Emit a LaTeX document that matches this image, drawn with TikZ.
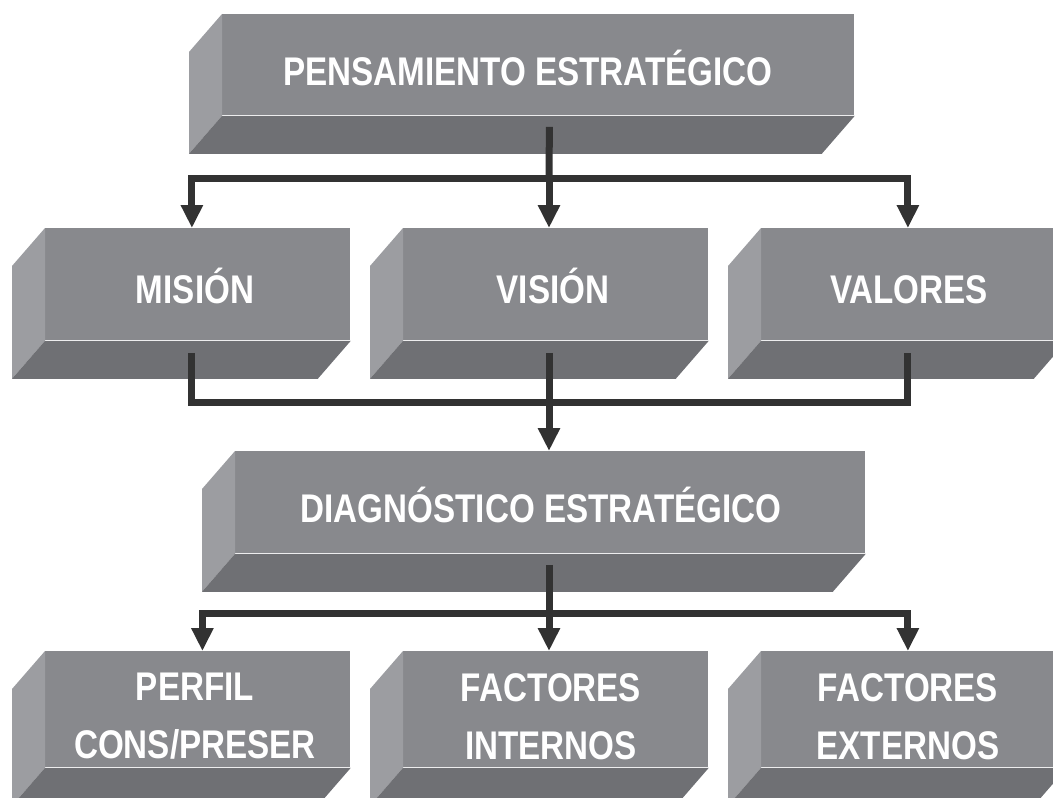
\documentclass[tikz,border=0pt]{standalone}
\usepackage{fontspec}
\newfontfamily\boxfont{Liberation Sans}[FakeStretch=0.83]
\usepackage{tikz}
\usetikzlibrary{arrows.meta}

\definecolor{frontgrey}{RGB}{136,137,141}
\definecolor{sidegrey}{RGB}{156,157,161}
\definecolor{basegrey}{RGB}{111,112,116}
\definecolor{linkgrey}{RGB}{50,50,50}

\newcommand{\boxbevel}[1]{%
  \fill[sidegrey] (#1.north west) -- ++(-33,38) -- ([shift={(-33,38)}]#1.south west) -- (#1.south west) -- cycle;
  \fill[basegrey] (#1.south west) -- ++(-33,38) -- ([shift={(-33,38)}]#1.south east) -- (#1.south east) -- cycle;
}

\begin{document}
\begin{tikzpicture}[
    x=0.5pt, y=-0.5pt,
    face/.style={rectangle, fill=frontgrey, inner sep=0pt, anchor=north west},
    lbl/.style={text=white, font=\boxfont\bfseries\fontsize{20pt}{29pt}\selectfont, inner sep=0pt, align=center},
    link/.style={draw=linkgrey, line width=3.5pt},
    >={Triangle[length=11.5pt, width=10.5pt]},
]
\useasboundingbox (0,0) rectangle (1053,797);
\clip (0,0) rectangle (1053,797);

% front faces
\node[face, minimum width=316pt, minimum height=50.5pt] (pens) at (222,14) {};
\foreach \name/\x in {mis/45, vis/403, val/761} {
    \node[face, minimum width=152.5pt, minimum height=56pt] (\name) at (\x,228) {};
}
\node[face, minimum width=315pt, minimum height=51pt] (diag) at (235,451) {};
\foreach \name/\x in {perf/45, intern/403, extern/761} {
    \node[face, minimum width=152.5pt, minimum height=58pt] (\name) at (\x,651) {};
}

% side and bottom of each block
\foreach \name in {pens, mis, vis, val, diag, perf, intern, extern} {
    \boxbevel{\name}
}

% labels
\node[lbl, anchor=base] (pens-t) at (528,85) {PENSAMIENTO ESTRATÉGICO};
\foreach \name/\x/\txt in {mis/195/MISIÓN, vis/553/VISIÓN, val/909/VALORES} {
    \node[lbl, anchor=base] (\name-t) at (\x,303) {\txt};
}
\node[lbl, anchor=base] (diag-t) at (541,522) {DIAGNÓSTICO ESTRATÉGICO};
\node[lbl, anchor=north] (perf-t) at (195,673) {PERFIL\\CONS/PRESER};
\node[lbl, anchor=north] (intern-t) at (551,673) {FACTORES\\INTERNOS};
\node[lbl, anchor=north] (extern-t) at (908,673) {FACTORES\\EXTERNOS};

% connectors
\coordinate (split-a) at (549,178);
\coordinate (join-b) at (549,402);
\coordinate (split-c) at (549,613);

\draw[link] ([xshift=5.5pt, yshift=-5.5pt]pens.south) -- (split-a);
\draw[link, ->] (split-a) -| ([xshift=-3pt]mis.north);
\draw[link, ->] (split-a) -- (split-a |- vis.north);
\draw[link, ->] (split-a) -| ([xshift=-3pt]val.north);

\draw[link] ([xshift=-3pt, yshift=-6pt]mis.south) |- (join-b) -| ([xshift=-3pt, yshift=-6pt]val.south);
\draw[link, ->] ([yshift=-6pt]join-b |- vis.south) -- (join-b |- diag.north);

\draw[link] ([yshift=-5.5pt]split-c |- diag.south) -- (split-c);
\draw[link, ->] (split-c) -| ([xshift=2.25pt]perf.north);
\draw[link, ->] (split-c) -- (split-c |- intern.north);
\draw[link, ->] (split-c) -| ([xshift=-3pt]extern.north);
\end{tikzpicture}
\end{document}
